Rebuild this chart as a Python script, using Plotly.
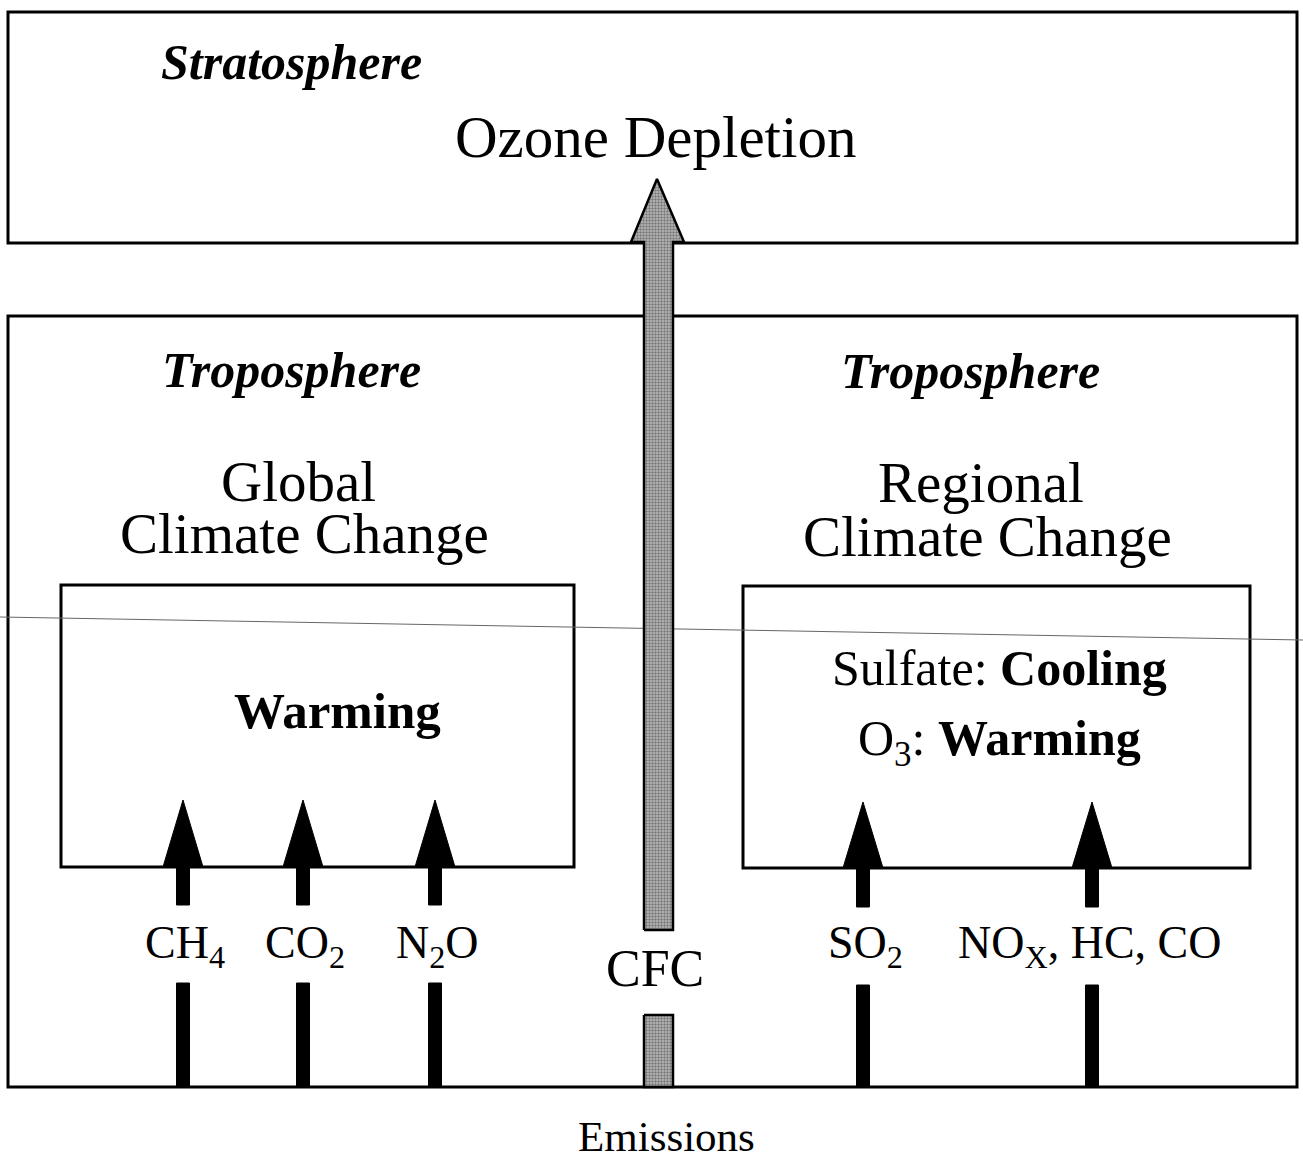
import plotly.graph_objects as go

# ---- content (text) ----
layer_titles = ["Stratosphere", "Troposphere", "Troposphere"]
effect_titles = ["Ozone Depletion", "Global", "Climate Change", "Regional", "Climate Change"]
left_gases = ["CH<sub>4</sub>", "CO<sub>2</sub>", "N<sub>2</sub>O"]
right_gases = ["SO<sub>2</sub>", "NO<sub>X</sub>, HC, CO"]
left_effect = ["<b>Warming</b>"]
right_effects = ["Sulfate: <b>Cooling</b>", "O<sub>3</sub>: <b>Warming</b>"]
cfc_label = "CFC"
footer = "Emissions"

# ---- layout geometry (pixel-like coordinate system) ----
W, H = 1303, 1160
FONT = "Liberation Serif, Times New Roman, serif"
strat_box = (8, 12, 1297, 243)
tropo_box = (8, 316, 1297, 1087)
left_box = (61, 585, 574, 867)
right_box = (743, 586, 1250, 868)
left_x = [183, 303, 435]
right_x = [863, 1092]
bottom_y = 1087

fig = go.Figure()

shapes = []
for (x0, y0, x1, y1) in [strat_box, tropo_box, left_box, right_box]:
    shapes.append(dict(type="rect", xref="x", yref="y", x0=x0, y0=y0, x1=x1, y1=y1,
                       line=dict(color="black", width=3), fillcolor="rgba(0,0,0,0)", layer="below"))
# faint scan line
shapes.append(dict(type="line", xref="x", yref="y", x0=0, y0=617, x1=W, y1=640,
                   line=dict(color="#666", width=1), layer="below"))


def black_arrow(xc, tip_y, base_y, up_end, low_start):
    hw, sw = 20, 6.5
    fig.add_trace(go.Scatter(x=[xc - hw, xc, xc + hw, xc - hw], y=[base_y, tip_y, base_y, base_y],
                             fill="toself", fillcolor="black", mode="lines",
                             line=dict(color="black", width=1), hoverinfo="skip", showlegend=False))
    fig.add_trace(go.Scatter(x=[xc - sw, xc + sw, xc + sw, xc - sw, xc - sw],
                             y=[base_y, base_y, up_end, up_end, base_y],
                             fill="toself", fillcolor="black", mode="lines",
                             line=dict(color="black", width=1), hoverinfo="skip", showlegend=False))
    fig.add_trace(go.Scatter(x=[xc - sw, xc + sw, xc + sw, xc - sw, xc - sw],
                             y=[low_start, low_start, bottom_y, bottom_y, low_start],
                             fill="toself", fillcolor="black", mode="lines",
                             line=dict(color="black", width=1), hoverinfo="skip", showlegend=False))


for xc in left_x:
    black_arrow(xc, 800, 867, 905, 983)
for xc in right_x:
    black_arrow(xc, 802, 868, 907, 985)

# CFC stippled arrow
cx = 658
pat = dict(shape=".", fgcolor="#333", bgcolor="#bdbdbd", size=3, solidity=0.5)
fig.add_trace(go.Scatter(
    x=[cx - 14, cx - 14, cx - 27, cx - 1, cx + 26, cx + 15, cx + 15, cx - 14],
    y=[930, 242, 242, 179, 242, 242, 930, 930],
    fill="toself", fillcolor="#a0a0a0", fillpattern=pat, mode="lines",
    line=dict(color="black", width=2.5), hoverinfo="skip", showlegend=False))
fig.add_trace(go.Scatter(
    x=[cx - 14, cx + 15, cx + 15, cx - 14, cx - 14],
    y=[1015, 1015, bottom_y, bottom_y, 1015],
    fill="toself", fillcolor="#a0a0a0", fillpattern=pat, mode="lines",
    line=dict(color="black", width=2.5), hoverinfo="skip", showlegend=False))

ann = []


def text(x, y, s, size, bold=False, italic=False):
    t = s
    if italic:
        t = "<i>" + t + "</i>"
    if bold:
        t = "<b>" + t + "</b>"
    ann.append(dict(x=x, y=y, xref="x", yref="y", text=t, showarrow=False,
                    xanchor="center", yanchor="middle", borderpad=0,
                    font=dict(family=FONT, size=size, color="black")))


text(291, 62, layer_titles[0], 50, bold=True, italic=True)
text(291, 370, layer_titles[1], 50, bold=True, italic=True)
text(970, 371, layer_titles[2], 50, bold=True, italic=True)

text(655, 137, effect_titles[0], 59)
text(298, 481, effect_titles[1], 57)
text(304, 533, effect_titles[2], 57)
text(981, 482, effect_titles[3], 57)
text(987, 536, effect_titles[4], 57)

text(337, 711, left_effect[0], 51)
text(999, 668, right_effects[0], 50)
text(999, 742, right_effects[1], 50)

for xc, g in zip(left_x, left_gases):
    text(xc + 2, 946, g, 46)
text(right_x[0] + 2, 946, right_gases[0], 46)
text(1090, 946, right_gases[1], 46)

text(655, 968, cfc_label, 52)
text(666, 1136, footer, 43)

fig.update_layout(
    width=W, height=H, margin=dict(l=0, r=0, t=0, b=0),
    paper_bgcolor="white", plot_bgcolor="white",
    xaxis=dict(range=[0, W], visible=False, fixedrange=True),
    yaxis=dict(range=[H, 0], visible=False, fixedrange=True),
    shapes=shapes, annotations=ann, showlegend=False,
)

fig.write_html("out.html", post_script="document.body.style.margin='0';",
               config={"displayModeBar": False})
